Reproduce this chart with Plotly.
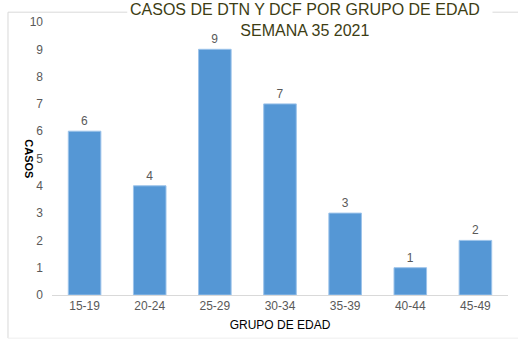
import plotly.graph_objects as go

grupos = ["15-19", "20-24", "25-29", "30-34", "35-39", "40-44", "45-49"]
casos = [6, 4, 9, 7, 3, 1, 2]
y_ticks = list(range(0, 11))

narrow = "Liberation Sans Narrow, Arial Narrow, Liberation Sans, sans-serif"
frame = dict(color="#d9d9d9", width=1)

fig = go.Figure(
    go.Bar(
        x=grupos,
        y=casos,
        text=[str(v) for v in casos],
        textposition="outside",
        textfont=dict(family=narrow, size=12, color="#595959"),
        marker=dict(color="#5597d5", line=dict(color="#9cc3ea", width=1)),
        cliponaxis=False,
    )
)

fig.update_layout(
    width=518,
    height=341,
    margin=dict(l=52, r=10, t=22, b=46),
    paper_bgcolor="white",
    plot_bgcolor="white",
    bargap=0.5,
    showlegend=False,
    xaxis=dict(
        showgrid=False,
        showline=True,
        linecolor="#d9d9d9",
        linewidth=1,
        ticks="",
        tickfont=dict(family=narrow, size=12, color="#595959"),
        title=dict(
            text="GRUPO DE EDAD",
            font=dict(family=narrow, size=12, color="#000000"),
            standoff=8,
        ),
    ),
    yaxis=dict(
        range=[0, 10],
        tickvals=y_ticks,
        showgrid=False,
        zeroline=False,
        showline=False,
        ticks="",
        tickfont=dict(family=narrow, size=12, color="#595959"),
        ticklabelstandoff=8,
    ),
    shapes=[
        # outer frame, top edge interrupted by the title
        dict(type="line", xref="paper", yref="paper", x0=-0.0965, x1=0.165, y0=1.036, y1=1.036, line=frame),
        dict(type="line", xref="paper", yref="paper", x0=0.966, x1=1.03, y0=1.036, y1=1.036, line=frame),
        dict(type="line", xref="paper", yref="paper", x0=-0.0965, x1=-0.0965, y0=1.036, y1=-0.158, line=frame),
        dict(type="line", xref="paper", yref="paper", x0=-0.0965, x1=1.03, y0=-0.158, y1=-0.158,
             line=dict(color="#eeeeee", width=1)),
    ],
    annotations=[
        dict(
            text="CASOS DE DTN Y DCF POR GRUPO DE EDAD<br>SEMANA 35 2021",
            xref="paper", yref="paper", x=0.555, y=1.085, yanchor="top",
            showarrow=False,
            font=dict(family="Liberation Sans, Arial, sans-serif", size=16, color="#3d3d14"),
        ),
        dict(
            text="<b>CASOS</b>",
            xref="paper", yref="paper", x=-0.05, y=0.5, xanchor="center", yanchor="middle",
            textangle=90, showarrow=False,
            font=dict(family="Liberation Sans, Arial, sans-serif", size=11, color="#000000"),
        ),
    ],
)

fig.write_html("out.html")
